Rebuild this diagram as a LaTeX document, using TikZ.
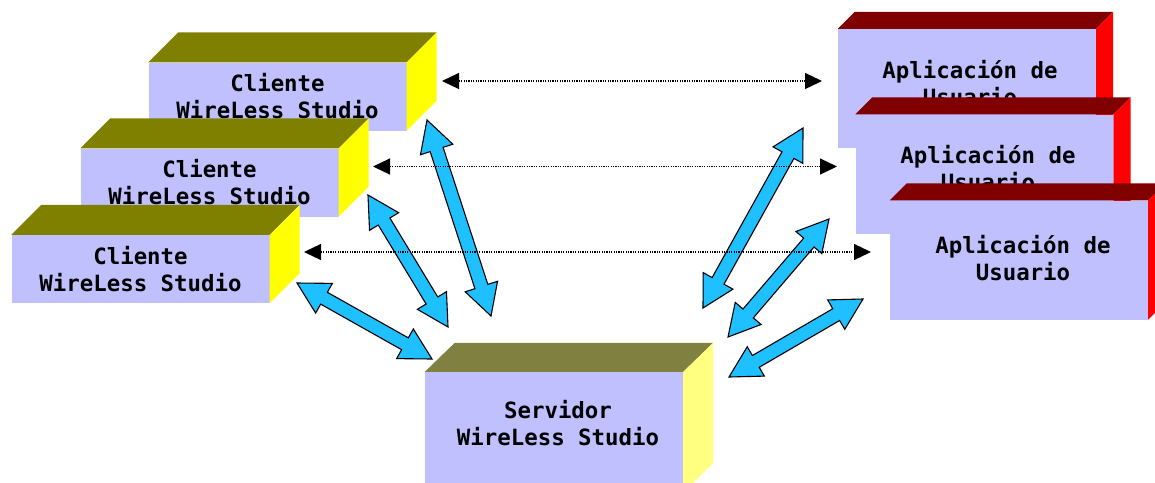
\documentclass[tikz,border=0pt]{standalone}
\usepackage{fontspec}
\newfontfamily\boxfont{DejaVu Sans Mono}
\usetikzlibrary{calc,arrows.meta}
\definecolor{lav}{HTML}{C0C0FF}
\definecolor{cltop}{HTML}{808000}
\definecolor{clside}{HTML}{FFFF00}
\definecolor{srvtop}{HTML}{808040}
\definecolor{srvside}{HTML}{FFFF80}
\definecolor{apptop}{HTML}{800000}
\definecolor{appside}{HTML}{FF0000}
\definecolor{arrblue}{HTML}{1EC0FF}
\tikzset{
  front/.style={fill=lav, inner sep=0pt, minimum width=258pt, align=center,
    font=\boxfont\bfseries\fontsize{22.4}{27}\selectfont},
  clientbox/.style={front, minimum height=68pt},
  appbox/.style={front, minimum height=119pt},
  serverbox/.style={front, minimum height=120pt},
  boxlabel/.style={inner sep=0pt, align=center,
    font=\boxfont\bfseries\fontsize{22.4}{27}\selectfont},
  bluearrow/.style={fill=arrblue, draw=black, line width=1.1pt, line join=miter},
  dotarrow/.style={line width=1.2pt, dash pattern=on 1.2pt off 1.2pt,
    {Triangle[length=17pt,width=16pt]}-{Triangle[length=17pt,width=16pt]}}
}
\newcommand{\cuboid}[5]{%
  \fill[#4] (#1.north west) -- ([shift={(#2,-#3)}]#1.north west) -- ([shift={(#2,-#3)}]#1.north east) -- (#1.north east) -- cycle;
  \fill[#5] (#1.north east) -- ([shift={(#2,-#3)}]#1.north east) -- ([shift={(#2,-#3)}]#1.south east) -- (#1.south east) -- cycle;}
\newcommand{\dblarrow}[2]{%
  \filldraw[bluearrow] (#1)
    -- ($(#1)!31pt!(#2)!17pt!90:(#2)$) -- ($(#1)!31pt!(#2)!6.8pt!90:(#2)$)
    -- ($(#2)!31pt!(#1)!6.8pt!-90:(#1)$) -- ($(#2)!31pt!(#1)!17pt!-90:(#1)$)
    -- (#2)
    -- ($(#2)!31pt!(#1)!17pt!90:(#1)$) -- ($(#2)!31pt!(#1)!6.8pt!90:(#1)$)
    -- ($(#1)!31pt!(#2)!6.8pt!-90:(#2)$) -- ($(#1)!31pt!(#2)!17pt!-90:(#2)$)
    -- cycle;}
\begin{document}
\begin{tikzpicture}[x=1pt, y=-1pt]
\useasboundingbox (0,0) rectangle (1155,482);
\clip (0,0) rectangle (1155,482);
% clients
\node[clientbox] (c1) at (277.5,96.5) {Cliente\\WireLess Studio};
\cuboid{c1}{30}{30}{cltop}{clside}
\node[clientbox] (c2) at (209.5,182.5) {Cliente\\WireLess Studio};
\cuboid{c2}{30}{30}{cltop}{clside}
\node[clientbox] (c3) at (140.5,269) {Cliente\\WireLess Studio};
\cuboid{c3}{30}{30}{cltop}{clside}
% applications
\node[appbox] (a1) at (967,88.5) {};
\node[boxlabel] at (970,83.5) {Aplicación de\\Usuario};
\cuboid{a1}{17}{17}{apptop}{appside}
\node[appbox] (a2) at (984.5,174) {};
\node[boxlabel] at (988,168.5) {Aplicación de\\Usuario};
\cuboid{a2}{17}{17}{apptop}{appside}
\node[appbox] (a3) at (1019,260) {};
\node[boxlabel] at (1023,258.5) {Aplicación de\\Usuario};
\cuboid{a3}{17}{17}{apptop}{appside}
% server
\node[serverbox] (srv) at (554,432) {};
\node[boxlabel] at (558,423.5) {Servidor\\WireLess Studio};
\cuboid{srv}{30}{29}{srvtop}{srvside}
% blue arrow end points
\coordinate (l1a) at (427,120); \coordinate (l1b) at (491,316);
\coordinate (l2a) at (368,195); \coordinate (l2b) at (448,327);
\coordinate (l3a) at (297,283); \coordinate (l3b) at (432,359);
\coordinate (r1a) at (803,128); \coordinate (r1b) at (703,308);
\coordinate (r2a) at (829,219); \coordinate (r2b) at (728,337);
\coordinate (r3a) at (863,299); \coordinate (r3b) at (729,377);
\dblarrow{l1a}{l1b}
\dblarrow{l2a}{l2b}
\dblarrow{l3a}{l3b}
\dblarrow{r1a}{r1b}
\dblarrow{r2a}{r2b}
\dblarrow{r3a}{r3b}
% dotted links
\coordinate (d1l) at (442,81);    \coordinate (d1r) at (822,81);
\coordinate (d2l) at (373,166.5); \coordinate (d2r) at (837,166.5);
\coordinate (d3l) at (304,252);   \coordinate (d3r) at (871,252);
\draw[dotarrow] (d1l) -- (d1r);
\draw[dotarrow] (d2l) -- (d2r);
\draw[dotarrow] (d3l) -- (d3r);
\end{tikzpicture}
\end{document}
